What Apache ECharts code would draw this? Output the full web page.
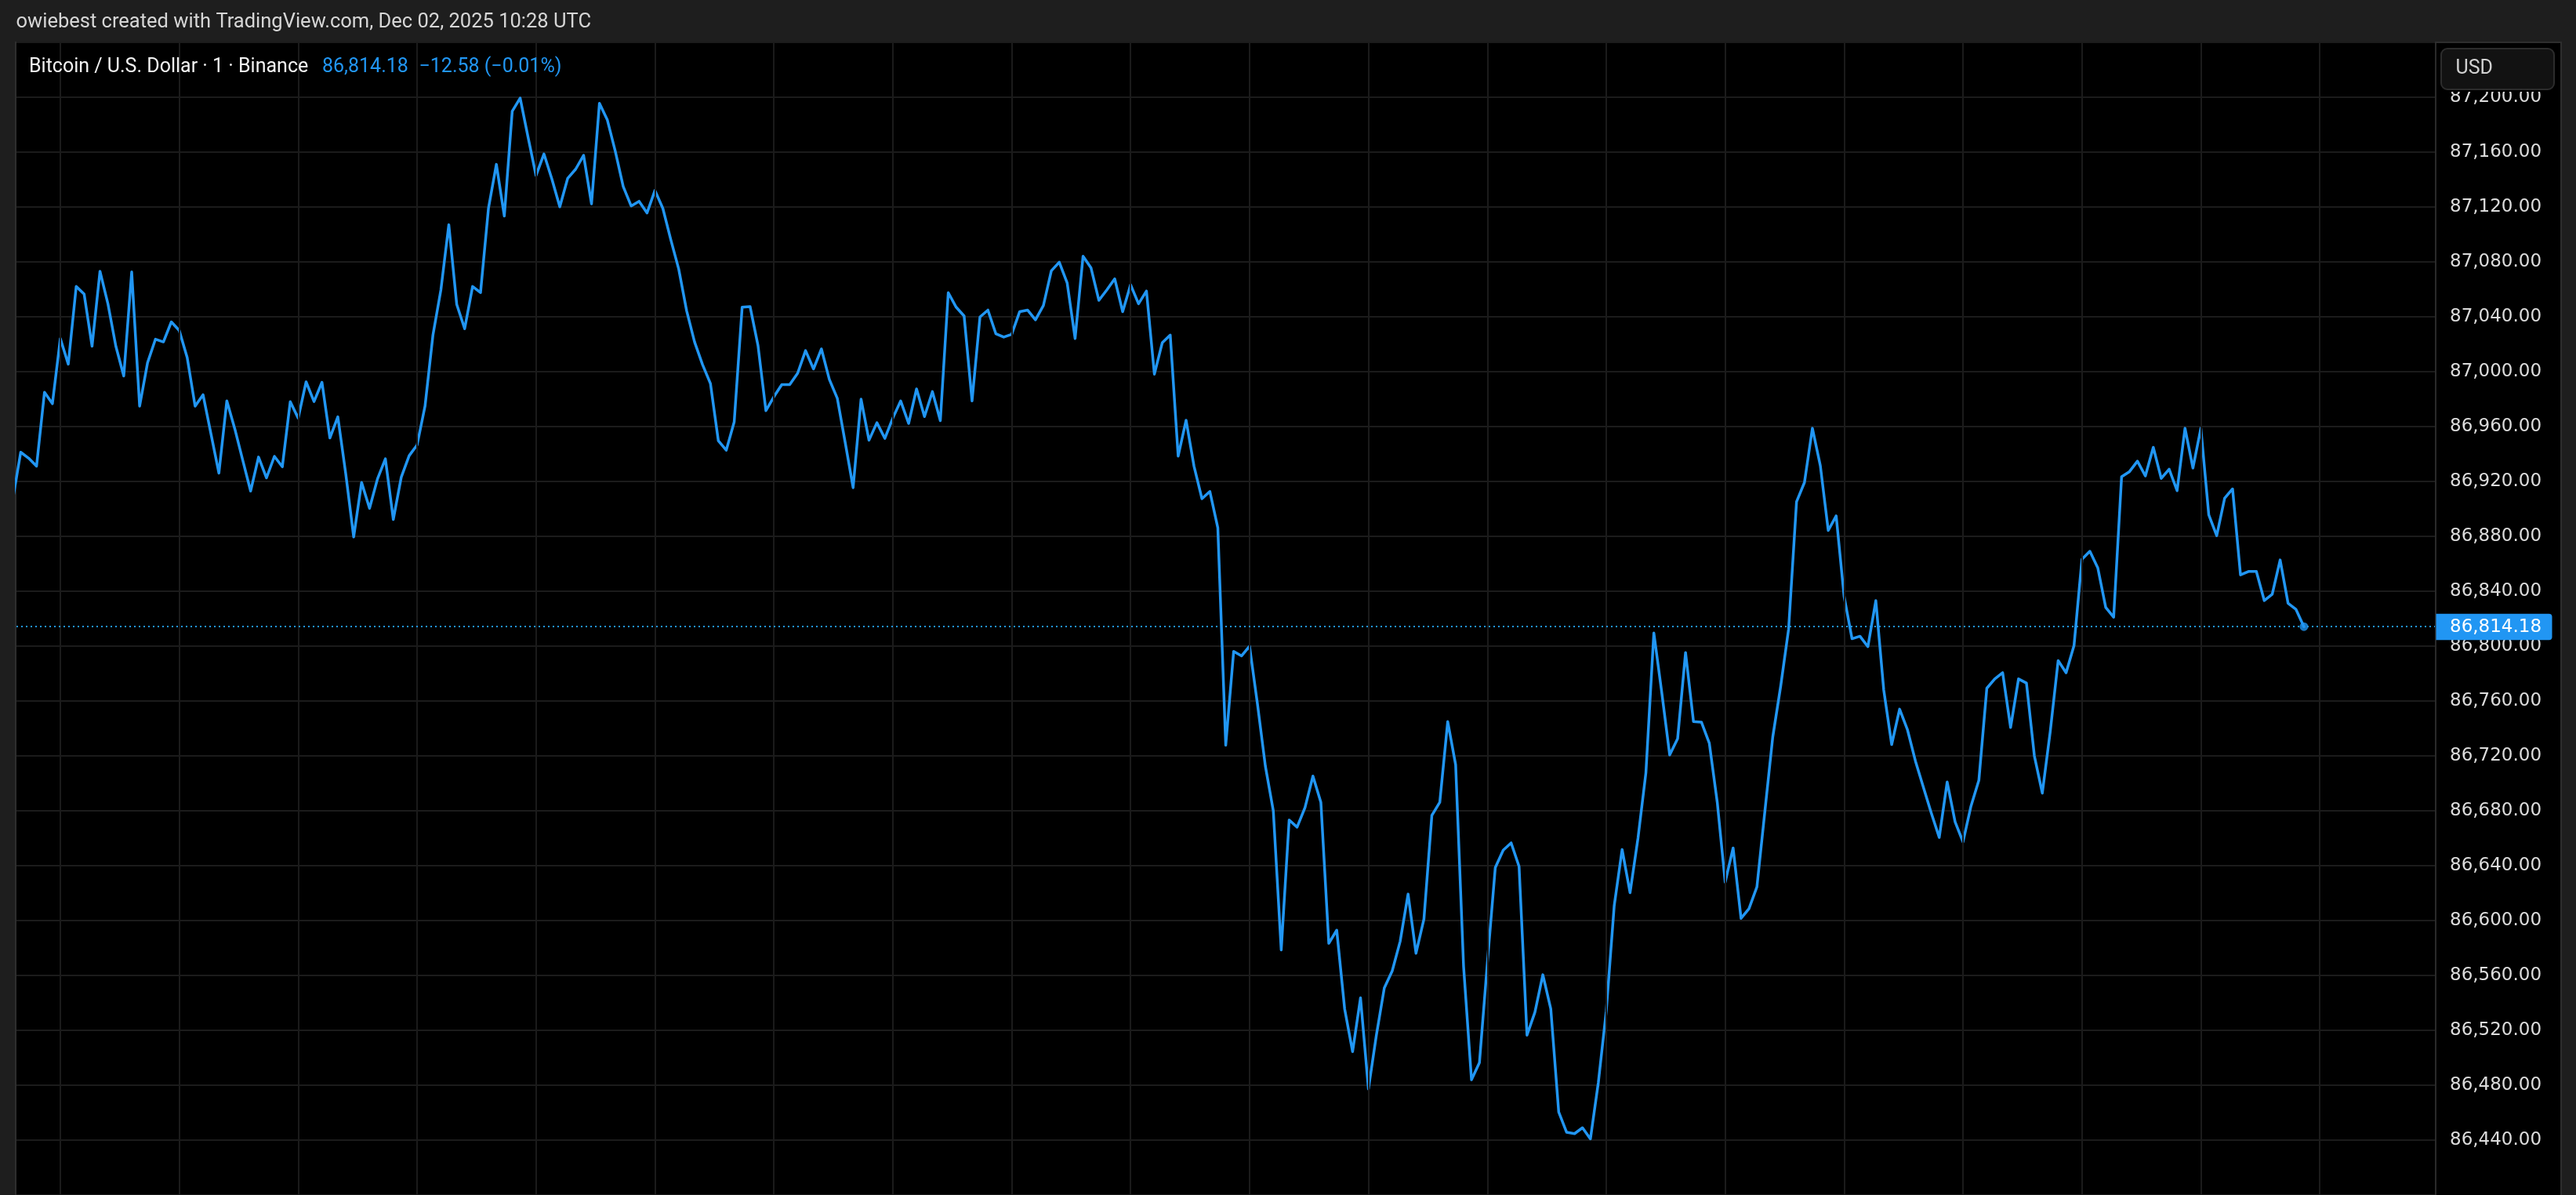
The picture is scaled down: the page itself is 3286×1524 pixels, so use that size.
<!DOCTYPE html>
<html>
<head>
<meta charset="utf-8">
<title>Bitcoin / U.S. Dollar · 1 · Binance</title>
<script src="https://cdn.jsdelivr.net/npm/echarts@6/dist/echarts.min.js"></script>
<style>
  html, body { margin: 0; padding: 0; background: #1e1e1e; }
  #chart { width: 3286px; height: 1524px; }
</style>
</head>
<body>
<div id="chart"></div>
<script>
// ---------------- DATA (1-minute closes, BTC/USD Binance, Dec 02 2025) ----------------
const startTime = '05:39';
const pricesH05 = [86906.9, 86941.3, 86937.0, 86931.2, 86985.0, 86976.7, 87024.2, 87005.5, 87062.1, 87056.6,
  87018.6, 87073.2, 87049.5, 87018.6, 86996.9, 87072.7, 86974.9, 87006.5, 87023.7, 87021.7, 87036.3];
const pricesH06 = [87030.0, 87010.3, 86974.9, 86983.2, 86954.7, 86926.1, 86978.7, 86958.5, 86935.7, 86913.0,
  86937.8, 86922.6, 86938.3, 86930.7, 86978.2, 86966.1, 86992.6, 86978.2, 86992.3, 86951.7,
  86967.1, 86925.6, 86879.6, 86919.3, 86900.4, 86921.8, 86936.5, 86892.3, 86923.1, 86938.8,
  86946.6, 86974.9, 87026.7, 87059.6, 87107.1, 87049.0, 87031.3, 87062.1, 87057.6, 87119.0,
  87151.1, 87113.4, 87189.8, 87199.4, 87170.8, 87143.0, 87158.7, 87140.5, 87120.2, 87141.0,
  87147.6, 87157.7, 87122.3, 87195.6, 87183.4, 87160.7, 87135.0, 87120.8, 87124.2, 87115.7];
const pricesH07 = [87132.1, 87119.0, 87096.2, 87074.8, 87044.4, 87021.7, 87005.2, 86991.4, 86949.6, 86942.8,
  86963.5, 87047.0, 87047.5, 87019.1, 86971.6, 86981.7, 86990.6, 86990.6, 86998.9, 87015.4,
  87002.0, 87016.6, 86994.4, 86980.7, 86948.4, 86915.5, 86980.0, 86950.1, 86962.8, 86951.4,
  86966.1, 86978.7, 86962.3, 86987.5, 86967.3, 86985.5, 86964.3, 87057.6, 87047.0, 87040.6,
  86978.7, 87039.9, 87044.9, 87027.7, 87025.2, 87027.2, 87043.7, 87044.9, 87037.8, 87048.2,
  87073.5, 87079.8, 87064.6, 87024.2, 87084.1, 87075.8, 87052.0, 87059.6, 87067.7, 87043.7];
const pricesH08 = [87063.4, 87049.5, 87058.8, 86998.2, 87021.2, 87026.7, 86938.5, 86964.6, 86931.1, 86907.4,
  86912.7, 86886.3, 86727.8, 86796.2, 86792.9, 86800.0, 86757.9, 86712.5, 86680.0, 86578.6,
  86673.3, 86668.1, 86682.4, 86705.3, 86686.2, 86583.4, 86593.0, 86535.6, 86504.5, 86543.7,
  86477.3, 86516.5, 86550.9, 86563.3, 86584.8, 86619.3, 86576.2, 86601.1, 86676.7, 86686.2,
  86745.0, 86713.5, 86566.7, 86484.0, 86496.4, 86569.1, 86638.6, 86651.3, 86656.6, 86639.4,
  86516.5, 86533.2, 86560.5, 86535.6, 86460.5, 86445.7, 86444.7, 86449.0, 86440.9, 86482.0];
const pricesH09 = [86534.2, 86610.7, 86651.8, 86620.3, 86660.0, 86707.8, 86809.6, 86766.1, 86720.7, 86732.6,
  86795.3, 86745.0, 86744.6, 86729.2, 86686.2, 86628.0, 86652.9, 86601.6, 86608.7, 86624.5,
  86679.3, 86733.8, 86770.8, 86812.5, 86905.2, 86919.3, 86958.8, 86931.5, 86884.3, 86894.9,
  86836.2, 86805.4, 86807.2, 86799.6, 86833.2, 86768.0, 86728.3, 86754.1, 86738.9, 86716.2,
  86697.2, 86678.3, 86660.6, 86701.0, 86671.9, 86657.3, 86683.3, 86702.3, 86769.3, 86776.1,
  86780.6, 86740.7, 86776.1, 86773.1, 86720.0, 86692.9, 86737.7, 86789.5, 86780.6, 86800.4];
const pricesH10 = [86863.3, 86869.1, 86857.0, 86828.2, 86821.1, 86923.4, 86927.2, 86934.8, 86924.0, 86944.9,
  86922.2, 86929.0, 86913.3, 86958.8, 86929.8, 86958.8, 86895.6, 86880.5, 86907.8, 86914.6,
  86851.9, 86854.4, 86854.4, 86833.2, 86837.8, 86862.8, 86831.2, 86826.76, 86814.18];

// time-axis grid ticks (every 15 minutes)
const xTickLabels = ['05:45', '06:00', '06:15', '06:30', '06:45', '07:00', '07:15', '07:30', '07:45', '08:00',
  '08:15', '08:30', '08:45', '09:00', '09:15', '09:30', '09:45', '10:00', '10:15', '10:30'];
// price-axis ticks
const yMin = 86400, yMax = 87240, yStep = 40;

const headerText = 'owiebest created with TradingView.com, Dec 02, 2025 10:28 UTC';
const symbolText = 'Bitcoin / U.S. Dollar · 1 · Binance';
const currencyText = 'USD';

// ---------------- BUILD ----------------
const prices = [].concat(pricesH05, pricesH06, pricesH07, pricesH08, pricesH09, pricesH10);
const toMin = t => { const [h, m] = t.split(':').map(Number); return h * 60 + m; };
const t0 = toMin(startTime);
const lineData = prices.map((v, i) => [i, v]);
const last = prices[prices.length - 1];
const prev = prices[prices.length - 2];
const chg = last - prev;
const fmt = v => v.toLocaleString('en-US', { minimumFractionDigits: 2, maximumFractionDigits: 2 });
const minus = s => s.replace('-', '\u2212');
const chgText = minus(chg.toFixed(2)) + ' (' + minus((chg / prev * 100).toFixed(2)) + '%)';

const BLUE = '#2196f3';
const GRIDC = '#1b1b1b';

const chart = echarts.init(document.getElementById('chart'), null, { renderer: 'canvas' });

const option = {
  backgroundColor: '#1e1e1e',
  animation: false,
  grid: { left: 21, right: 180, top: 54.05, height: 1483.65, containLabel: false },
  xAxis: {
    type: 'value', min: 0.4648, max: 305.52, show: false
  },
  yAxis: {
    type: 'value', position: 'right', min: yMin, max: yMax, interval: yStep,
    axisLine: { show: false }, axisTick: { show: false },
    splitLine: { show: true, lineStyle: { color: GRIDC, width: 2 } },
    axisLabel: {
      show: true, showMinLabel: false, showMaxLabel: false,
      inside: false, margin: 19, align: 'left',
      color: '#dcdcdc', fontFamily: 'DejaVu Sans', fontSize: 23,
      formatter: v => fmt(v)
    }
  },
  series: [
    {
      type: 'line', name: 'grid', data: [], silent: true, z: 1,
      markLine: {
        silent: true, symbol: ['none', 'none'], label: { show: false },
        lineStyle: { color: GRIDC, width: 2, type: 'solid' },
        data: xTickLabels.map(t => ({ xAxis: toMin(t) - t0 }))
      }
    },
    {
      type: 'line', name: 'BTCUSD', data: lineData, showSymbol: false, z: 3,
      lineStyle: { color: BLUE, width: 3.5, join: 'round', cap: 'round' },
      markLine: {
        silent: true, symbol: ['none', 'none'], label: { show: false },
        lineStyle: { color: BLUE, width: 2, type: [2, 4] },
        data: [{ yAxis: last }]
      }
    },
    {
      type: 'scatter', name: 'last', data: [[prices.length - 1, last]], symbol: 'circle', symbolSize: 11,
      itemStyle: { color: BLUE }, z: 5, silent: true
    }
  ]
};
chart.setOption(option);

const yLast = chart.convertToPixel({ yAxisIndex: 0 }, last);

chart.setOption({
  graphic: [
    // chart pane background with border
    { type: 'rect', z: -100, silent: true,
      shape: { x: 20, y: 54, width: 3247, height: 1490 },
      style: { fill: '#000000', stroke: '#2e2e2e', lineWidth: 2 } },
    // price axis separator
    { type: 'line', z: 50, silent: true,
      shape: { x1: 3107, y1: 55, x2: 3107, y2: 1524 },
      style: { stroke: '#2a2a2a', lineWidth: 2 } },
    // header
    { type: 'text', z: 60, silent: true, x: 20.5, y: 29,
      style: { text: headerText, fill: '#d6d6d6', font: '25.5px Roboto', textVerticalAlign: 'middle', textAlign: 'left' } },
    { type: 'text', z: 60, silent: true, x: 37, y: 86,
      style: { text: symbolText, fill: '#f2f2f2', font: '25px Roboto', textVerticalAlign: 'middle', textAlign: 'left' } },
    { type: 'text', z: 60, silent: true, x: 411, y: 86,
      style: { text: fmt(last), fill: BLUE, font: '25px Roboto', textVerticalAlign: 'middle', textAlign: 'left' } },
    { type: 'text', z: 60, silent: true, x: 534.5, y: 86,
      style: { text: chgText, fill: BLUE, font: '25px Roboto', textVerticalAlign: 'middle', textAlign: 'left' } },
    // mask under the USD button (clips the top price label like the reference)
    { type: 'rect', z: 99, silent: true,
      shape: { x: 3108, y: 55, width: 157, height: 62 },
      style: { fill: '#000000' } },
    // USD button
    { type: 'rect', z: 100, silent: true,
      shape: { x: 3114, y: 62, width: 144, height: 52, r: 8 },
      style: { fill: '#121212', stroke: '#2c2c2c', lineWidth: 2 } },
    { type: 'text', z: 101, silent: true, x: 3132.5, y: 88,
      style: { text: currencyText, fill: '#d1d1d1', font: '25px Roboto', textVerticalAlign: 'middle', textAlign: 'left' } },
    // last price label
    { type: 'rect', z: 100, silent: true,
      shape: { x: 3107.5, y: yLast - 16.5, width: 148, height: 33.5, r: [0, 4, 4, 0] },
      style: { fill: BLUE } },
    { type: 'text', z: 101, silent: true, x: 3125, y: yLast + 0.5,
      style: { text: fmt(last), fill: '#ffffff', font: '23px "DejaVu Sans"', textVerticalAlign: 'middle', textAlign: 'left' } }
  ]
});
</script>
</body>
</html>
